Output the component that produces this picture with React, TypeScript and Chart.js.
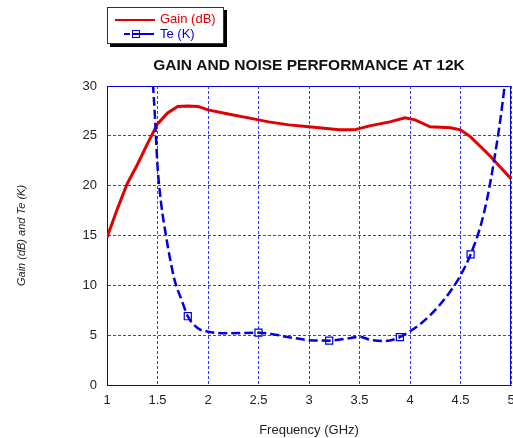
import React, { useEffect, useRef } from "react";
import { Chart, registerables } from "chart.js";

Chart.register(...registerables);

const gainFreq = [1.0, 1.1, 1.2, 1.3, 1.4, 1.5, 1.6, 1.7, 1.8, 1.9, 2.0, 2.2, 2.4, 2.6, 2.8, 3.0, 3.2, 3.3, 3.45, 3.6, 3.8, 3.95, 4.05, 4.2, 4.4, 4.5, 4.6, 4.7, 4.8, 4.9, 5.0];
const gainValues = [14.8, 17.6, 20.2, 22.1, 24.2, 26.2, 27.3, 27.95, 28.0, 27.95, 27.6, 27.2, 26.8, 26.4, 26.1, 25.9, 25.7, 25.6, 25.6, 26.0, 26.4, 26.8, 26.6, 25.9, 25.8, 25.6, 24.9, 23.9, 22.9, 21.8, 20.7];

const teFreq = [1.455, 1.475, 1.5, 1.54, 1.574, 1.62, 1.67, 1.74, 1.8, 1.9, 2.0, 2.2, 2.5, 2.8, 3.0, 3.2, 3.4, 3.5, 3.6, 3.75, 3.9, 4.0, 4.1, 4.2, 4.3, 4.4, 4.5, 4.6, 4.7, 4.76, 4.8, 4.84, 4.88, 4.91, 4.94];
const teValues = [30.2, 26.9, 22.0, 17.9, 15.6, 12.9, 10.5, 8.5, 6.9, 5.7, 5.35, 5.2, 5.25, 4.8, 4.5, 4.45, 4.7, 4.85, 4.55, 4.4, 4.8, 5.4, 6.1, 7.0, 8.1, 9.4, 11.0, 13.1, 16.0, 18.5, 20.6, 23.0, 25.6, 27.8, 30.3];
const teMarkerFreqs = [1.8, 2.5, 3.2, 3.9, 4.6];

const xTicks = [1, 1.5, 2, 2.5, 3, 3.5, 4, 4.5, 5];
const yTicks = [0, 5, 10, 15, 20, 25, 30];

const titleText = "GAIN AND NOISE PERFORMANCE AT 12K";
const xTitle = "Frequency (GHz)";
const yTitle = "Gain (dB) and Te (K)";
const gainLabel = "Gain (dB)";
const teLabel = "Te (K)";

const RED = "#e00000";
const BLUE = "#0000e0";
const GRID = "#3a3aff";
const FONT = "'Liberation Sans', Arial, sans-serif";

export default function App() {
  const ref = useRef<HTMLCanvasElement | null>(null);

  useEffect(() => {
    document.body.style.margin = "0";
    const canvas = ref.current;
    if (!canvas) return;

    const frameBox = {
      id: "frameBox",
      beforeDatasetsDraw(chart: any) {
        const { ctx, chartArea } = chart;
        ctx.save();
        ctx.strokeStyle = BLUE;
        ctx.lineWidth = 1;
        ctx.setLineDash([]);
        ctx.strokeRect(
          Math.round(chartArea.left) + 0.5,
          Math.round(chartArea.top) + 0.5,
          Math.round(chartArea.right - chartArea.left) - 1,
          Math.round(chartArea.bottom - chartArea.top)
        );
        ctx.restore();
      },
    };

    const chart = new Chart(canvas, {
      type: "line",
      data: {
        datasets: [
          {
            label: teLabel,
            data: teFreq.map((f, i) => ({ x: f, y: teValues[i] })),
            borderColor: BLUE,
            backgroundColor: "rgba(0,0,0,0)",
            borderWidth: 2.5,
            borderDash: [9, 4],
            cubicInterpolationMode: "monotone",
            pointStyle: "rect",
            pointRadius: teFreq.map((f) => (teMarkerFreqs.includes(f) ? 5 : 0)),
            pointBorderColor: BLUE,
            pointBackgroundColor: "rgba(255,255,255,0)",
            pointBorderWidth: 1.2,
            order: 0,
          },
          {
            label: gainLabel,
            data: gainFreq.map((f, i) => ({ x: f, y: gainValues[i] })),
            borderColor: RED,
            backgroundColor: "rgba(0,0,0,0)",
            borderWidth: 3,
            tension: 0,
            pointRadius: 0,
            order: 1,
          },
        ],
      },
      options: {
        animation: false,
        responsive: false,
        maintainAspectRatio: false,
        layout: { padding: { left: 0, right: 2, top: 0, bottom: 0 } },
        plugins: {
          legend: { display: false },
          tooltip: { enabled: false },
          title: {
            display: true,
            text: titleText,
            fullSize: false,
            color: "#111",
            font: { family: FONT, size: 15.5, weight: "bold" },
            padding: { top: 56, bottom: 11.4 },
          },
        },
        scales: {
          x: {
            type: "linear",
            min: 1,
            max: 5,
            afterBuildTicks: (scale: any) => {
              scale.ticks = xTicks.map((v) => ({ value: v }));
            },
            afterFit: (scale: any) => {
              scale.height = 53;
              scale.paddingLeft = 0;
              scale.paddingRight = 0;
            },
            ticks: {
              color: "#222",
              font: { family: FONT, size: 13 },
              padding: 8,
              maxRotation: 0,
              autoSkip: false,
              callback: (v: any) => String(v),
            },
            grid: { color: GRID, lineWidth: 1, drawTicks: false },
            border: { display: true, color: BLUE, width: 1, dash: [3, 2] },
            title: {
              display: true,
              text: xTitle,
              color: "#222",
              font: { family: FONT, size: 13 },
              padding: { top: 0, bottom: 0 },
            },
          },
          y: {
            type: "linear",
            min: 0,
            max: 30,
            afterBuildTicks: (scale: any) => {
              scale.ticks = yTicks.map((v) => ({ value: v }));
            },
            afterFit: (scale: any) => {
              scale.width = 107;
            },
            ticks: {
              color: "#222",
              font: { family: FONT, size: 13 },
              padding: 10,
              callback: (v: any) => String(v),
            },
            grid: { color: GRID, lineWidth: 1, drawTicks: false },
            border: { display: true, color: BLUE, width: 1, dash: [3, 2] },
            title: {
              display: true,
              text: yTitle,
              color: "#222",
              font: { family: FONT, size: 11, style: "italic" },
              padding: { top: 15, bottom: 0 },
            },
          },
        },
      },
      plugins: [frameBox],
    } as any);

    return () => chart.destroy();
  }, []);

  return (
    <div style={{ position: "relative", width: 513, height: 438 }}>
      <canvas ref={ref} width={513} height={438} style={{ display: "block" }} />
      <div
        style={{
          position: "absolute",
          left: 107,
          top: 7,
          width: 115,
          height: 35,
          border: "1px solid #333",
          background: "#fff",
          boxShadow: "3px 3px 0 #000",
          fontFamily: FONT,
          fontSize: 13,
        }}
      >
        <div style={{ position: "absolute", left: 7, top: 11, width: 40, height: 2, background: RED }} />
        <div style={{ position: "absolute", left: 52, top: 3, color: RED, lineHeight: "15px", whiteSpace: "nowrap" }}>
          {gainLabel}
        </div>
        <div style={{ position: "absolute", left: 16, top: 25, width: 6, height: 2, background: BLUE }} />
        <div style={{ position: "absolute", left: 24, top: 25, width: 22, height: 2, background: BLUE }} />
        <div
          style={{
            position: "absolute",
            left: 24,
            top: 22,
            width: 6,
            height: 6,
            border: `1px solid ${BLUE}`,
          }}
        />
        <div style={{ position: "absolute", left: 52, top: 18, color: BLUE, lineHeight: "15px", whiteSpace: "nowrap" }}>
          {teLabel}
        </div>
      </div>
    </div>
  );
}
